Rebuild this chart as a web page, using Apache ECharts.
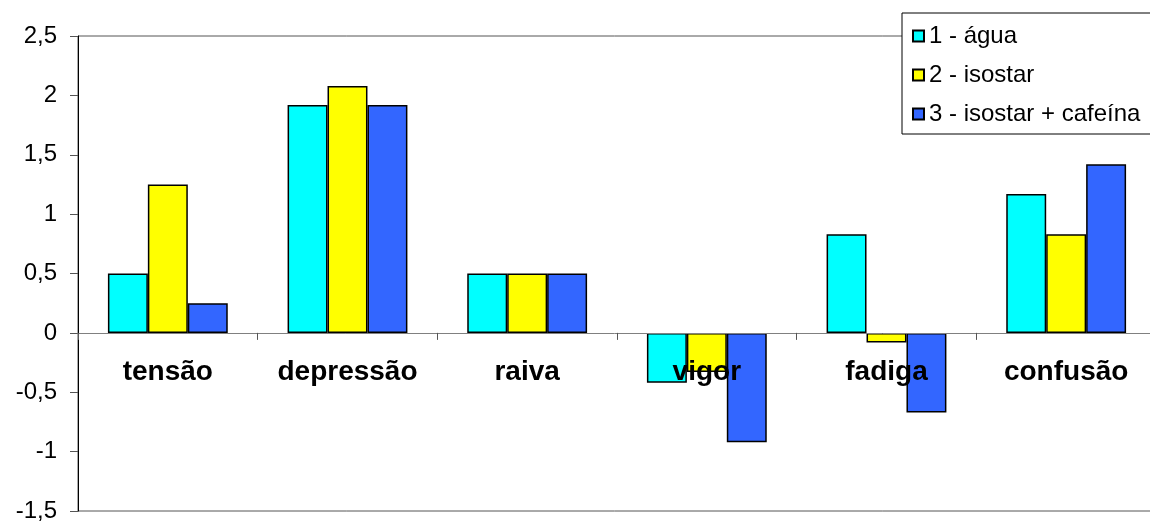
<!DOCTYPE html>
<html>
<head>
<meta charset="utf-8">
<script src="https://cdn.jsdelivr.net/npm/echarts@6/dist/echarts.min.js"></script>
<style>
  html, body { margin: 0; padding: 0; background: #ffffff; }
  #chart { width: 1150px; height: 524px; }
</style>
</head>
<body>
<div id="chart"></div>
<script>
// Mood-state profile scores per condition
const categories = ['tensão', 'depressão', 'raiva', 'vigor', 'fadiga', 'confusão'];
const seriesNames = ['1 - água', '2 - isostar', '3 - isostar + cafeína'];
const agua = [0.5, 1.92, 0.5, -0.42, 0.83, 1.17];
const isostar = [1.25, 2.08, 0.5, -0.33, -0.08, 0.83];
const isostarCafeina = [0.25, 1.92, 0.5, -0.92, -0.67, 1.42];
const barColors = ['#00FFFF', '#FFFF00', '#3366FF'];
const yMin = -1.5, yMax = 2.5, yStep = 0.5;

const FONT = '"Liberation Sans", Arial, sans-serif';
const GRID_TOP = 36, GRID_HEIGHT = 475;
// the category axis sits on the value 0 line: shift it up from the grid bottom
const zeroOffset = -GRID_HEIGHT * (0 - yMin) / (yMax - yMin);

const chart = echarts.init(document.getElementById('chart'), null, { renderer: 'canvas' });

function barSeries(name, data, color) {
  return {
    name: name,
    type: 'bar',
    data: data,
    barGap: '0%',
    barCategoryGap: '33.3%',
    itemStyle: { color: color, borderColor: '#000000', borderWidth: 1.5 },
    emphasis: { disabled: true },
    z: 2
  };
}

chart.setOption({
  animation: false,
  backgroundColor: '#ffffff',
  grid: {
    left: 78,
    top: GRID_TOP,
    width: 1078,
    height: GRID_HEIGHT,
    outerBoundsMode: 'none',
    containLabel: false,
    show: true,
    borderColor: '#555555',
    borderWidth: 1,
    backgroundColor: 'transparent'
  },
  legend: {
    orient: 'vertical',
    left: 902,
    top: 13,
    padding: [11, 40, 8, 10],
    itemGap: 15,
    itemWidth: 11,
    itemHeight: 11,
    itemTextGap: 10,
    icon: 'rect',
    backgroundColor: '#ffffff',
    borderColor: '#000000',
    borderWidth: 1,
    borderRadius: 0,
    textStyle: { fontFamily: FONT, fontSize: 24, color: '#000000', lineHeight: 23 },
    data: seriesNames,
    z: 10
  },
  xAxis: {
    type: 'category',
    data: categories,
    position: 'bottom',
    offset: zeroOffset,
    z: 5,
    axisLine: { onZero: false, lineStyle: { color: '#808080', width: 1 } },
    axisTick: { show: true, length: 7, lineStyle: { color: '#555555' } },
    axisLabel: {
      margin: 25,
      fontFamily: FONT,
      fontSize: 28,
      fontWeight: 'bold',
      color: '#000000',
      interval: 0
    },
    splitLine: { show: false }
  },
  yAxis: {
    type: 'value',
    min: yMin,
    max: yMax,
    interval: yStep,
    axisLine: { show: true, lineStyle: { color: '#000000', width: 1 } },
    axisTick: { show: true, length: 8, lineStyle: { color: '#555555' } },
    axisLabel: {
      margin: 21,
      fontFamily: FONT,
      fontSize: 24,
      color: '#000000',
      formatter: function (v) { return String(v).replace('.', ','); }
    },
    splitLine: { show: false }
  },
  series: [
    barSeries(seriesNames[0], agua, barColors[0]),
    barSeries(seriesNames[1], isostar, barColors[1]),
    barSeries(seriesNames[2], isostarCafeina, barColors[2])
  ]
});
</script>
</body>
</html>
